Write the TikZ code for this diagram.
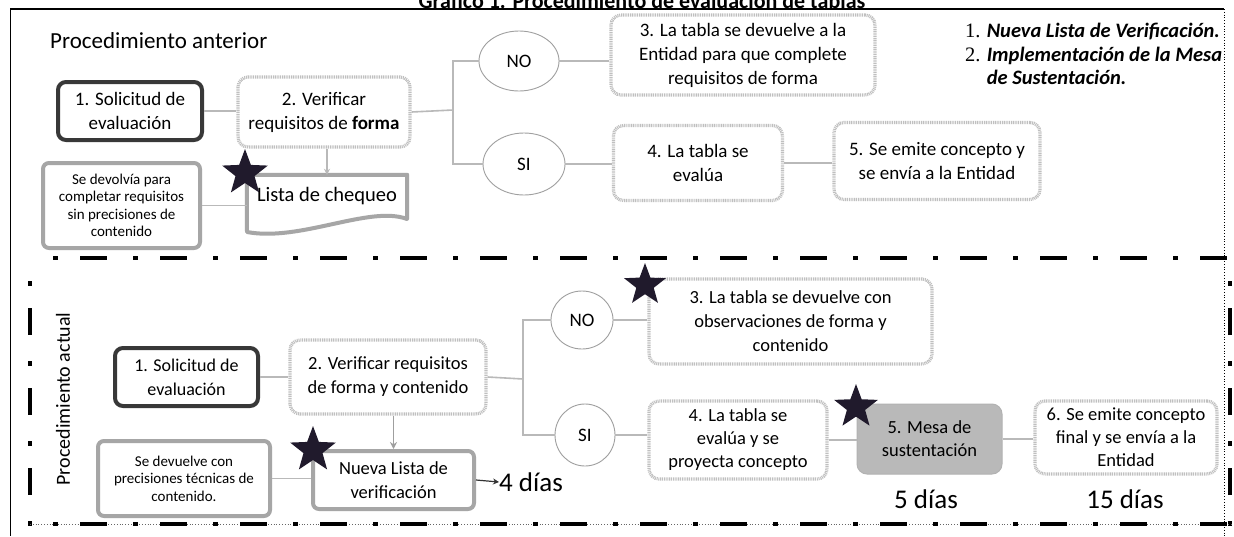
\documentclass[tikz,border=0pt]{standalone}
\usepackage{fontspec}
\setmainfont{Carlito}
\newfontfamily\numfont{Liberation Serif}
\usetikzlibrary{shapes.geometric,arrows.meta}
\definecolor{stardark}{RGB}{32,26,44}
\tikzset{
  txt/.style={font=\fontsize{19}{24}\selectfont, align=center, inner sep=0pt},
  smalltxt/.style={font=\fontsize{15}{17.5}\selectfont, align=center, inner sep=0pt},
  darkbox/.style={txt, rounded corners=8pt, draw=black!78, line width=4pt},
  graybox/.style={txt, rounded corners=10pt, draw=gray!50, line width=3.2pt, dash pattern=on 1pt off 0.8pt},
  medbox/.style={rounded corners=6pt, draw=gray!70, line width=4pt},
  oval/.style={txt, ellipse, draw=gray!75, line width=0.9pt},
  conn/.style={draw=gray!55, line width=1.6pt},
  sep/.style={draw=black, line width=4pt, dash pattern=on 5pt off 22pt on 27pt off 26pt, dash phase=57pt},
  starmark/.style={star, star points=5, star point ratio=2.4, minimum size=48pt, inner sep=0pt, fill=stardark, draw=none},
  days/.style={font=\fontsize{27}{30}\selectfont, inner sep=0pt},
}
\begin{document}
\begin{tikzpicture}[x=1pt,y=-1pt]
\useasboundingbox (0,0) rectangle (1234,536);
\clip (0,0) rectangle (1234,536);
\fill[white] (0,0) rectangle (1234,536);

% title (cut off at top, as in the reference)
\node[font=\bfseries\fontsize{22}{24}\selectfont, anchor=base, inner sep=0pt] (title) at (642,8) {Gráfico 1. Procedimiento de evaluación de tablas};

% outer frame
\draw[black, line width=1.8pt] (10,9) -- (1224,9);
\draw[black, line width=0.8pt] (10,9) -- (10,536);
\draw[black, line width=0.8pt, dotted] (1224,9) -- (1224,536);

% ---------------- upper part ----------------
\node[font=\fontsize{23}{26}\selectfont, anchor=base west, inner sep=0pt] (pant) at (50,48) {Procedimiento anterior};

\node[darkbox, minimum width=144pt, minimum height=58pt] (b1) at (130,111) {1. Solicitud de\\evaluación};
\node[graybox, minimum width=172pt, minimum height=70pt] (b2) at (324,112) {2. Verificar\\requisitos de \textbf{forma}};
\node[oval, minimum width=80pt, minimum height=60pt] (no1) at (519,61) {NO};
\node[oval, minimum width=82pt, minimum height=62pt] (si1) at (524,164) {SI};
\node[graybox, minimum width=264pt, minimum height=80pt] (b3) at (743,55) {3. La tabla se devuelve a la\\Entidad para que complete\\requisitos de forma};
\node[graybox, minimum width=169pt, minimum height=75pt] (b4) at (698,163) {4. La tabla se\\evalúa};
\node[graybox, minimum width=206pt, minimum height=77pt] (b5) at (937,161) {5. Se emite concepto y\\se envía a la Entidad};

\node[smalltxt, medbox, minimum width=157pt, minimum height=85pt] (dev) at (121.5,205.5) {Se devolvía para\\completar requisitos\\sin precisiones de\\contenido};

\node[font=\fontsize{20.5}{24}\selectfont, inner sep=0pt, minimum width=160pt, minimum height=42pt] (lista) at (327,196) {Lista de chequeo};
\draw[draw=gray!70, line width=4pt, line join=round] (lista.north west) -- (lista.north east) -- (407,219) .. controls (370,205) and (300,242) .. (247,232) -- cycle;

\node[starmark] (st1) at (245,173) {};

\coordinate (j1) at (453,110);
\draw[conn] (b1.east) -- (b1.east -| b2.west);
\draw[conn] (b2.east) -- (j1);
\draw[conn] (no1.west) -| (j1) |- (si1.west);
\draw[conn] (no1.east) -- (no1.east -| b3.west);
\draw[conn] (si1.east) -- (si1.east -| b4.west);
\draw[conn] (b4.east) -- (b4.east -| b5.west);
\draw[conn, -{Stealth[length=6pt,width=6pt]}] (b2.south -| lista.north) -- (lista.north);
\draw[conn] (dev.east) -- (dev.east -| lista.west);

\node[anchor=north west, inner sep=0pt, align=left, font=\fontsize{20.5}{23.5}\selectfont] (notes) at (965,23)
  {{\numfont 1.} \textbf{\textit{Nueva Lista de Verificación.}}\\
   {\numfont 2.} \textbf{\textit{Implementación de la Mesa}}\\
   \phantom{{\numfont 2.} }\textbf{\textit{de Sustentación.}}};

% ---------------- separator frame ----------------
\draw[sep] (30,258) -- (1232,258);
\draw[sep] (30,258) -- (30,526);
\draw[sep] (1230,258) -- (1230,526);
\draw[black!60, line width=0.8pt, dotted] (30,524) -- (1232,524);
\draw[sep] (30,524) -- (1232,524);

% ---------------- lower part ----------------
\node[font=\fontsize{20}{24}\selectfont, rotate=90, inner sep=0pt] (pact) at (63,399) {Procedimiento actual};

\node[darkbox, font=\fontsize{18}{24}\selectfont, minimum width=143pt, minimum height=58pt] (c1) at (186.5,377) {1. Solicitud de\\evaluación};
\node[graybox, font=\fontsize{18.5}{24}\selectfont, minimum width=196pt, minimum height=74pt] (c2) at (388,377) {2. Verificar requisitos\\de forma y contenido};
\node[txt, medbox, font=\fontsize{18.5}{24}\selectfont, minimum width=161pt, minimum height=58pt] (nl) at (393.5,480) {Nueva Lista de\\verificación};
\node[smalltxt, medbox, minimum width=172pt, minimum height=75pt] (dv) at (184,478.5) {Se devuelve con\\precisiones técnicas de\\contenido.};
\node[oval, minimum width=62pt, minimum height=58pt] (no2) at (582,320) {NO};
\node[oval, minimum width=60pt, minimum height=62pt] (si2) at (585,435) {SI};
\node[graybox, font=\fontsize{18.5}{24}\selectfont, minimum width=283pt, minimum height=85pt] (c3) at (790.5,321.5) {3. La tabla se devuelve con\\observaciones de forma y\\contenido};
\node[graybox, font=\fontsize{18.5}{23}\selectfont, minimum width=178pt, minimum height=78pt] (c4) at (738,440) {4. La tabla se\\evalúa y se\\proyecta concepto};
\node[txt, rounded corners=10pt, fill=gray!55, draw=gray!60, line width=1pt, font=\fontsize{18.5}{23}\selectfont, minimum width=145pt, minimum height=70pt] (c5) at (929.5,439) {5. Mesa de\\sustentación};
\node[graybox, font=\fontsize{18.5}{23}\selectfont, minimum width=182pt, minimum height=73pt] (c6) at (1126,437.5) {6. Se emite concepto\\final y se envía a la\\Entidad};

\node[days, anchor=west] (d4) at (499,482) {4 días};
\node[days] (d5) at (926,499) {5 días};
\node[days] (d15) at (1125,499) {15 días};

\node[starmark] (st2) at (313,450) {};
\node[starmark, minimum size=44pt] (st3) at (645,285) {};
\node[starmark, minimum size=46pt] (st4) at (856,407) {};

\coordinate (j2) at (523,379);
\draw[conn] (c1.east) -- (c1.east -| c2.west);
\draw[conn] (c2.east) -- (j2);
\draw[conn] (no2.west) -| (j2) |- (si2.west);
\draw[conn] (no2.east) -- (no2.east -| c3.west);
\draw[conn] (si2.east) -- (si2.east -| c4.west);
\draw[conn] (c4.east) -- (c4.east -| c5.west);
\draw[conn] (c5.east) -- (c5.east -| c6.west);
\draw[draw=gray!75, line width=1.4pt, -{Stealth[length=7pt,width=7pt]}] (c2.south -| nl.north) -- (nl.north);
\draw[conn] (dv.east) -- (dv.east -| nl.west);
\draw[draw=black!80, line width=1.2pt, -{Stealth[length=6pt,width=6pt]}] (nl.east) -- (d4.west);
\end{tikzpicture}
\end{document}
